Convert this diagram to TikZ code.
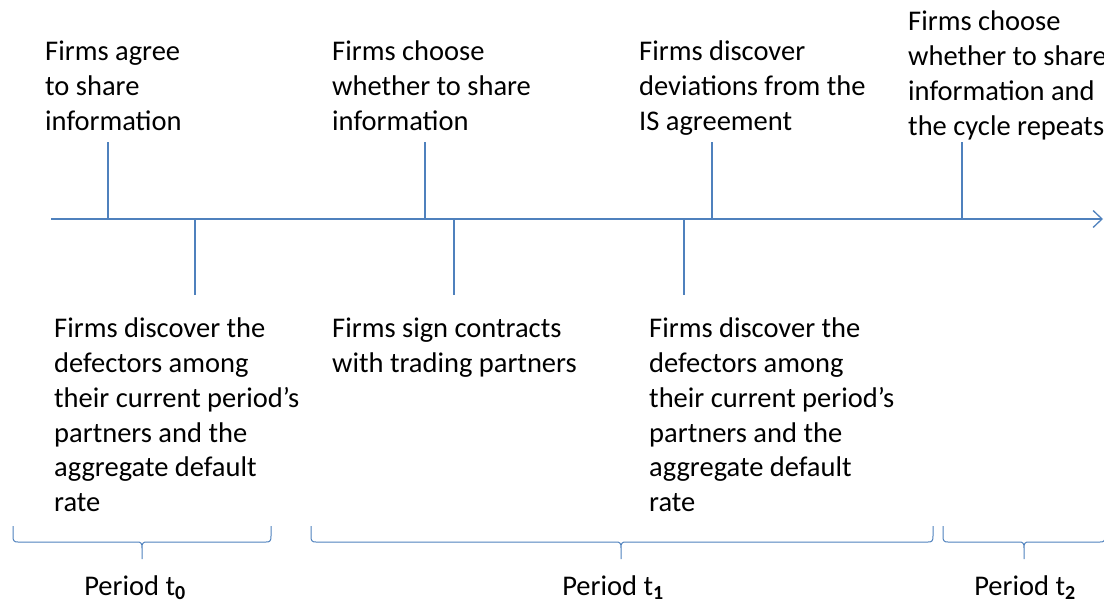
\documentclass[tikz,border=0pt]{standalone}
\usepackage{fontspec}
\setmainfont{Carlito}
\usetikzlibrary{arrows.meta}
\definecolor{lineblue}{RGB}{79,129,189}
\tikzset{
  event/.style={anchor=north west, inner sep=0pt, align=left,
    font=\fontsize{28.5}{34.7}\selectfont},
  periodlabel/.style={anchor=base, inner sep=0pt,
    font=\fontsize{28.5}{34.7}\selectfont},
  timeline/.style={draw=lineblue, line width=1.3pt},
}
\newcommand{\periodsub}[1]{\textsubscript{\bfseries #1}}

\begin{document}
\begin{tikzpicture}[x=1pt, y=-1pt]
\useasboundingbox (0,0) rectangle (1104,605);

%time axis
\draw[timeline, -{Straight Barb[length=9pt, width=17pt]}] (51,219) -- (1103,219);
\foreach \x in {108, 425, 712, 962}
	\draw[timeline] (\x,142) -- (\x,219);
\foreach \x in {195, 454, 684}
	\draw[timeline] (\x,219) -- (\x,295);

%events above
\node[event] (agree) at (45,41) {Firms agree\\to share\\information};
\node[event] (choose) at (332,41) {Firms choose\\whether to share\\information};
\node[event] (deviate) at (639,41) {Firms discover\\deviations from the\\IS agreement};
\node[event] (repeat) at (908,11) {Firms choose\\whether to share\\information and\\the cycle repeats};

%events below
\node[event] (defectA) at (54,318) {Firms discover the\\defectors among\\their current period’s\\partners and the\\aggregate default\\rate};
\node[event] (sign) at (332,318) {Firms sign contracts\\with trading partners};
\node[event] (defectB) at (649,318) {Firms discover the\\defectors among\\their current period’s\\partners and the\\aggregate default\\rate};

%periods
\foreach \l/\m/\r in {13/142/271, 311/621/933, 943/1024/1105}
	\draw[timeline, line width=1pt] (\l,526) -- (\l,536)
		.. controls (\l,541) and (\l+1,542) .. (\l+5,542) -- (\m-5,542)
		.. controls (\m-1,542) and (\m,543) .. (\m,548) -- (\m,559)
		(\m,548) .. controls (\m,543) and (\m+1,542) .. (\m+5,542) -- (\r-5,542)
		.. controls (\r-1,542) and (\r,541) .. (\r,536) -- (\r,526);
\node[periodlabel] (periodA) at (135,595) {Period t\periodsub{0}};
\node[periodlabel] (periodB) at (613,595) {Period t\periodsub{1}};
\node[periodlabel] (periodC) at (1025,595) {Period t\periodsub{2}};

\end{tikzpicture}
\end{document}
